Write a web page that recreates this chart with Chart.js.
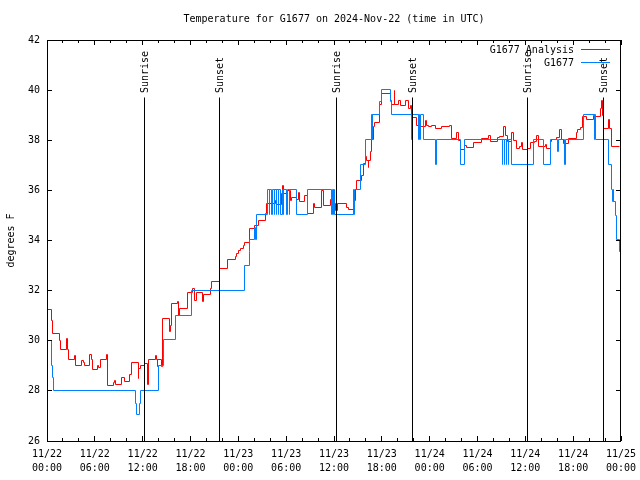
<!DOCTYPE html>
<html><head><meta charset="utf-8">
<script src="https://cdn.jsdelivr.net/npm/chart.js@4.4.1/dist/chart.umd.min.js"></script>
<style>html,body{margin:0;padding:0;background:#fff}#wrap{width:640px;height:480px}</style>
</head><body><div id="wrap"><canvas id="c" width="640" height="480"></canvas></div>
<script>
const titleText = 'Temperature for G1677 on 2024-Nov-22 (time in UTC)';
const yAxisTitle = 'degrees F';
const seriesNames = ['G1677 Analysis', 'G1677'];
const xTickHours = [0,6,12,18,24,30,36,42,48,54,60,66,72];
const xTickDays = ['11/22','11/22','11/22','11/22','11/23','11/23','11/23','11/23','11/24','11/24','11/24','11/24','11/25'];
const xTickTimes = ['00:00','06:00','12:00','18:00','00:00','06:00','12:00','18:00','00:00','06:00','12:00','18:00','00:00'];
const yTickValues = [26,28,30,32,34,36,38,40,42];

// hours since 2024-11-22 00:00 UTC
const analysisHours = [0,0.54,0.66,1.59,1.72,2.42,2.55,2.67,3.39,3.6,4.3,4.52,4.68,5.36,5.56,5.68,6.31,6.52,6.74,7.49,7.56,8.28,8.49,8.62,9.32,9.66,10.37,10.57,11.42,11.54,11.75,12.29,12.58,12.71,13.55,13.76,13.84,13.92,14.39,14.55,15.34,15.52,15.64,16.35,16.47,16.6,17.6,18.28,18.48,18.69,19.53,19.61,20.53,20.66,21.61,22.67,23.67,23.8,24.0,24.21,24.62,24.75,25.46,26.09,26.51,27.35,27.56,28.69,28.81,29.44,29.6,29.69,30.14,30.57,30.7,31.32,31.49,31.65,32.36,32.65,33.4,33.53,34.46,34.66,35.5,35.71,36.25,36.38,37.59,37.8,38.42,38.64,38.76,39.48,39.68,39.89,40.1,40.27,40.36,40.52,40.73,40.93,41.14,41.68,41.99,43.03,43.24,43.53,43.65,44.07,44.28,44.91,45.32,45.62,45.75,45.87,46.29,46.54,46.79,47.42,47.63,47.83,48.26,48.67,49.51,50.47,50.68,51.39,51.59,51.81,52.43,52.65,53.48,54.53,55.36,55.66,56.49,56.7,57.24,57.45,57.74,58.29,58.49,58.92,59.33,59.55,59.67,60.25,60.59,61.13,61.43,61.63,62.26,62.47,62.68,63.1,63.31,63.94,64.26,64.56,64.77,65.39,66.36,66.52,66.86,67.2,67.7,68.53,68.74,69.37,69.56,69.71,69.78,70.41,70.62,70.84,71.75];
const analysisTemps = [31.25,30.8,30.3,30.0,29.66,30.07,29.66,29.26,29.4,29.03,29.2,29.12,29.03,29.45,29.26,28.87,29.0,28.95,29.26,29.47,28.23,28.33,28.43,28.27,28.54,28.37,28.67,29.15,28.5,28.9,29.03,29.1,28.27,29.26,29.4,29.26,28.99,29.26,28.99,30.89,30.36,30.6,31.47,31.55,31.0,31.29,31.94,32.09,31.59,31.94,31.56,31.83,32.09,32.37,32.89,33.25,33.36,33.49,33.6,33.69,33.8,33.94,34.49,34.6,34.78,35.08,35.48,35.6,35.45,35.88,36.21,35.88,36.01,35.6,35.71,35.62,35.9,35.55,35.8,35.08,35.48,35.33,36.0,35.4,35.62,35.48,35.2,35.48,35.3,35.25,35.6,36.04,36.41,36.6,37.08,37.34,37.21,36.9,37.21,37.54,38.01,38.54,38.7,39.43,39.85,39.6,39.43,40.0,39.43,39.6,39.4,39.6,39.27,39.4,38.7,38.9,38.6,38.7,38.54,38.78,38.6,38.54,38.6,38.48,38.54,38.6,38.08,38.3,38.0,37.64,37.8,37.72,37.92,38.08,38.2,37.94,38.12,38.14,38.54,38.2,37.94,38.3,38.0,37.68,37.74,37.9,37.64,37.68,37.9,37.95,38.2,37.77,37.74,37.85,37.68,37.95,38.04,38.1,38.41,38.04,37.88,38.05,38.3,38.44,38.5,38.94,38.81,39.0,38.94,39.27,39.6,39.0,38.48,38.81,38.48,37.74,37.77];

const obsHours = [0,0.54,0.66,0.79,11.13,11.25,11.63,11.75,13.96,14.59,16.12,18.15,24.75,25.38,25.46,26.09,26.15,26.22,26.31,27.72,27.85,27.97,28.16,28.29,28.48,28.54,28.73,28.79,29.02,29.08,29.23,29.57,29.64,29.71,30.07,30.2,30.4,30.48,31.32,32.65,35.71,35.79,35.88,35.95,36.03,38.42,38.5,38.57,39.35,39.89,40.73,40.79,40.87,41.68,41.99,43.03,43.24,45.75,45.87,46.57,46.66,46.75,46.84,47.2,48.67,48.88,51.81,52.31,57.14,57.17,57.39,57.42,57.64,57.67,57.89,57.92,58.29,61.0,62.26,63.1,64.01,64.14,64.89,65.07,67.28,68.62,68.68,68.74,70.41,70.84,70.94,71.0,71.07,71.25,71.46,71.75,71.88,72.0];
const obsTemps = [30.02,29.03,28.53,28.03,27.5,27.04,27.5,28.03,29.02,30.03,31.0,32.0,33.01,33.55,34.02,34.5,34.02,34.6,35.05,36.04,35.05,36.04,35.05,36.04,35.05,36.04,35.05,36.04,35.05,36.04,35.05,36.04,35.05,36.04,35.05,36.04,35.05,36.04,35.05,36.04,35.05,36.04,35.05,36.04,35.05,36.04,35.05,36.04,37.04,38.04,39.03,38.04,39.03,39.54,40.03,39.54,39.03,38.04,39.03,38.04,39.03,38.04,39.03,38.04,37.04,38.04,37.04,38.04,37.04,38.04,37.04,38.04,37.04,38.04,37.04,38.04,37.04,38.04,37.04,38.04,37.54,38.04,37.04,38.04,39.03,38.04,39.03,38.04,37.04,36.04,35.55,36.04,35.55,35.0,34.05,33.55,33.02,33.02];

const sunriseHours = [12.17, 36.28, 60.25];
const sunsetHours = [21.7, 45.82, 69.78];
const sunLineTop = 39.7;

const FONT = '"DejaVu Sans Mono", "Liberation Mono", monospace';
const RED = '#ff0000';
const BLUE = '#0080ff';

function pts(xs, ys) { return xs.map((h, i) => ({x: h, y: ys[i]})); }

const datasets = [
  {label: seriesNames[0], data: pts(analysisHours, analysisTemps), borderColor: RED, borderWidth: 1, stepped: true, pointRadius: 0, fill: false, order: 3},
  {label: seriesNames[1], data: pts(obsHours, obsTemps), borderColor: BLUE, borderWidth: 1, stepped: true, pointRadius: 0, fill: false, order: 2}
];
sunriseHours.concat(sunsetHours).forEach(h => {
  datasets.push({label: 'sun', data: [{x: h, y: 26}, {x: h, y: sunLineTop}], borderColor: '#000', borderWidth: 1, pointRadius: 0, fill: false, order: 1});
});

// snap the library-computed point positions to pixel centres so 1px lines stay crisp
const crisp = {
  id: 'crisp',
  afterDatasetsUpdate(chart) {
    chart.data.datasets.forEach((ds, i) => {
      const meta = chart.getDatasetMeta(i);
      meta.data.forEach(p => { p.x = Math.floor(p.x) + 0.5; p.y = Math.floor(p.y) + 0.5; });
      if (meta.dataset) meta.dataset._path = undefined;
    });
  }
};

const decor = {
  id: 'decor',
  afterDraw(chart) {
    const {ctx, chartArea: a, scales: {x, y}} = chart;
    ctx.save();
    ctx.strokeStyle = '#000';
    ctx.lineWidth = 1;
    ctx.strokeRect(a.left + 0.5, a.top + 0.5, a.right - a.left - 1, a.bottom - a.top);
    ctx.beginPath();
    for (let h = 0; h <= 72; h += 2) {
      const px = Math.floor(x.getPixelForValue(h)) + 0.5;
      const len = (h % 6 === 0) ? 5 : 3;
      ctx.moveTo(px, a.bottom); ctx.lineTo(px, a.bottom - len);
      ctx.moveTo(px, a.top); ctx.lineTo(px, a.top + len);
    }
    yTickValues.forEach(v => {
      const py = Math.floor(y.getPixelForValue(v)) + 0.5;
      ctx.moveTo(a.left, py); ctx.lineTo(a.left + 5, py);
      ctx.moveTo(a.right, py); ctx.lineTo(a.right - 5, py);
    });
    ctx.stroke();

    ctx.fillStyle = '#000';
    ctx.font = '10px ' + FONT;
    ctx.textAlign = 'center';
    ctx.textBaseline = 'middle';
    ctx.fillText(titleText, (a.left + a.right) / 2, 19);

    ctx.save();
    ctx.translate(11, (a.top + a.bottom) / 2);
    ctx.rotate(-Math.PI / 2);
    ctx.fillText(yAxisTitle, 0, 0);
    ctx.restore();

    const labelBase = 93;
    const drawSun = (h, txt) => {
      ctx.save();
      ctx.translate(Math.floor(x.getPixelForValue(h)) + 1, labelBase);
      ctx.rotate(-Math.PI / 2);
      ctx.textAlign = 'left';
      ctx.fillText(txt, 0, 0);
      ctx.restore();
    };
    sunriseHours.forEach(h => drawSun(h, 'Sunrise'));
    sunsetHours.forEach(h => drawSun(h, 'Sunset'));

    ctx.textAlign = 'right';
    ctx.fillText(seriesNames[0], 574, 50);
    ctx.fillText(seriesNames[1], 574, 63);
    ctx.lineWidth = 1;
    ctx.strokeStyle = RED;
    ctx.beginPath(); ctx.moveTo(581, 49.5); ctx.lineTo(610, 49.5); ctx.stroke();
    ctx.strokeStyle = BLUE;
    ctx.beginPath(); ctx.moveTo(581, 62.5); ctx.lineTo(610, 62.5); ctx.stroke();
    ctx.restore();
  }
};

new Chart(document.getElementById('c'), {
  type: 'line',
  data: {datasets},
  options: {
    responsive: false,
    animation: false,
    devicePixelRatio: 1,
    layout: {padding: {top: 40, right: 19, left: 0, bottom: 0}},
    plugins: {legend: {display: false}, title: {display: false}, tooltip: {enabled: false}},
    elements: {line: {tension: 0}},
    scales: {
      x: {
        type: 'linear', min: 0, max: 72,
        grid: {display: false, drawTicks: false},
        border: {display: false},
        afterBuildTicks: s => { s.ticks = xTickHours.map(v => ({value: v})); },
        afterFit: s => { s.height = 39; s.paddingLeft = 0; s.paddingRight = 0; },
        ticks: {
          autoSkip: false, maxRotation: 0, minRotation: 0, padding: 7,
          color: '#000', font: {family: FONT, size: 10, lineHeight: 1.35},
          callback: (v, i) => [xTickDays[i], xTickTimes[i]]
        }
      },
      y: {
        type: 'linear', min: 26, max: 42,
        grid: {display: false, drawTicks: false},
        border: {display: false},
        afterBuildTicks: s => { s.ticks = yTickValues.map(v => ({value: v})); },
        afterFit: s => { s.width = 47; },
        ticks: {padding: 7, color: '#000', font: {family: FONT, size: 10}, callback: v => String(v)}
      }
    }
  },
  plugins: [crisp, decor]
});
</script></body></html>
